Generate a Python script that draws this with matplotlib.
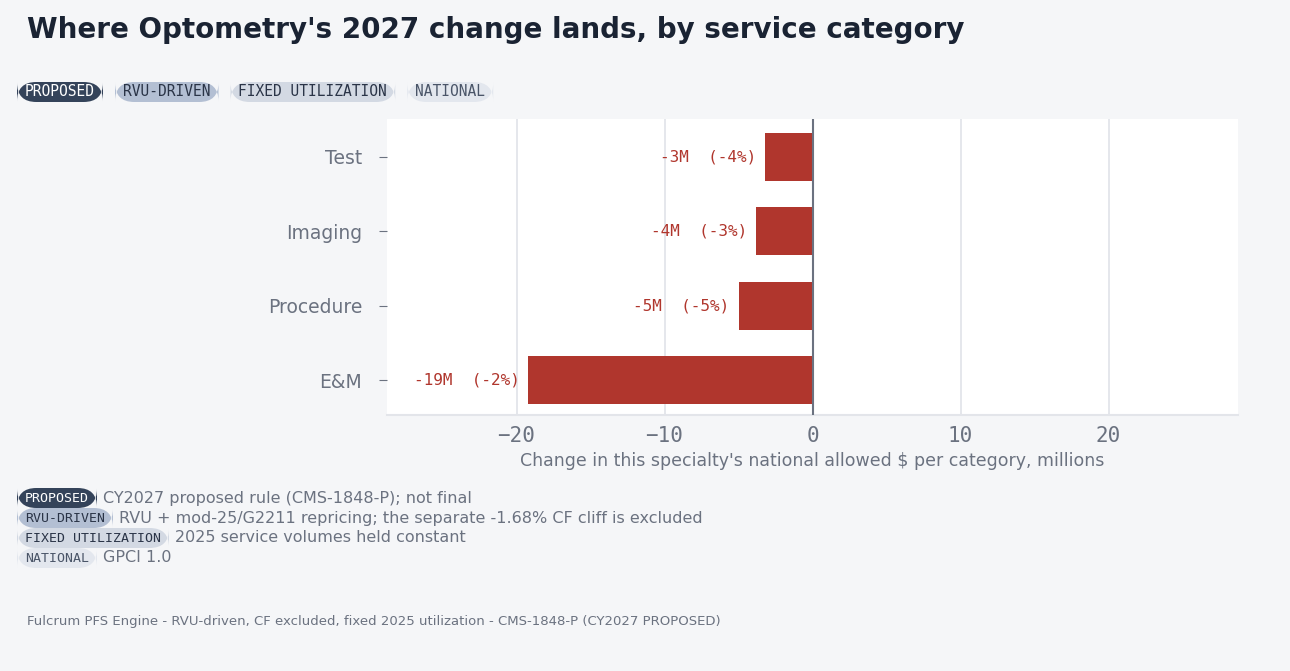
import matplotlib
matplotlib.use("Agg")
import matplotlib.pyplot as plt
from matplotlib.patches import FancyBboxPatch

categories = ["E&M", "Procedure", "Imaging", "Test"]
values = [-19.2, -5.0, -3.8, -3.2]
labels = ["-19M  (-2%)", "-5M  (-5%)", "-4M  (-3%)", "-3M  (-4%)"]
xticks = [-20, -10, 0, 10, 20]
pills = ["PROPOSED", "RVU-DRIVEN", "FIXED UTILIZATION", "NATIONAL"]
pill_desc = ["CY2027 proposed rule (CMS-1848-P); not final",
             "RVU + mod-25/G2211 repricing; the separate -1.68% CF cliff is excluded",
             "2025 service volumes held constant",
             "GPCI 1.0"]
pill_bg = ["#34435a", "#b3bfd3", "#d3d9e3", "#e3e7ee"]
pill_fg = ["#ffffff", "#2a3447", "#2a3447", "#4a5568"]

W, H = 1290, 671
BG = "#f5f6f8"
RED = "#b0362d"
GREY = "#6b7280"
fig = plt.figure(figsize=(W/100, H/100), dpi=100, facecolor=BG)
ax = fig.add_axes([387/W, 1-415/H, (1238-387)/W, (415-119)/H])
ax.set_facecolor("white")
y = list(range(len(categories)))
ax.barh(y, values, height=0.65, color=RED, zorder=3)
for yi, v, l in zip(y, values, labels):
    ax.text(v - 0.6, yi, l, ha="right", va="center", color=RED,
            family="DejaVu Sans Mono", fontsize=11.5, zorder=4)
ax.axvline(0, color="#6b7280", lw=1.5, zorder=4)
ax.set_xlim(-28.75, 28.75)
ax.set_ylim(-0.47, 3.51)
ax.set_yticks(y)
ax.set_yticklabels(categories, fontsize=13.5, color=GREY)
ax.set_xticks(xticks)
ax.set_xticklabels([str(t).replace("-", "\u2212") for t in xticks],
                   family="DejaVu Sans Mono", fontsize=15, color=GREY)
ax.grid(axis="x", color="#e3e5ea", lw=1.3, zorder=0)
for s in ["top", "right", "left"]:
    ax.spines[s].set_visible(False)
ax.spines["bottom"].set_color("#e3e5ea")
ax.spines["bottom"].set_linewidth(1.5)
ax.tick_params(axis="y", length=6, color=GREY, pad=12)
ax.tick_params(axis="x", length=0, pad=8)
ax.set_xlabel("Change in this specialty's national allowed $ per category, millions",
              fontsize=12.5, color=GREY, labelpad=4)

fig.text(27/W, 1-30/H, "Where Optometry's 2027 change lands, by service category",
         fontsize=20, fontweight="bold", color="#1a2333", va="center")

def pill(x, yc, text, bg, fg, fs):
    t = fig.text(x/W + 8/W, 1-yc/H, text, family="DejaVu Sans Mono", fontsize=fs,
                 color=fg, va="center", ha="left", zorder=5)
    fig.canvas.draw()
    bb = t.get_window_extent()
    w = bb.width + 16
    p = FancyBboxPatch((x/W, 1-(yc+10)/H), w/W, 20/H,
                       boxstyle="round,pad=0,rounding_size=0.015",
                       transform=fig.transFigure, fc=bg, ec="none", zorder=4,
                       mutation_aspect=W/H)
    fig.patches.append(p)
    return x + w

x = 17
for p, b, f in zip(pills, pill_bg, pill_fg):
    x = pill(x, 92, p, b, f, 10.5) + 12

for i, (p, b, f, d) in enumerate(zip(pills, pill_bg, pill_fg, pill_desc)):
    yc = 498 + i*20
    xe = pill(17, yc, p, b, f, 9.5)
    fig.text((xe+6)/W, 1-yc/H, d, fontsize=11.5, color=GREY, va="center")

fig.text(27/W, 1-622/H,
         "Fulcrum PFS Engine - RVU-driven, CF excluded, fixed 2025 utilization - CMS-1848-P (CY2027 PROPOSED)",
         fontsize=9.5, color=GREY, va="center")
fig.savefig("out.png", dpi=100, facecolor=BG)
